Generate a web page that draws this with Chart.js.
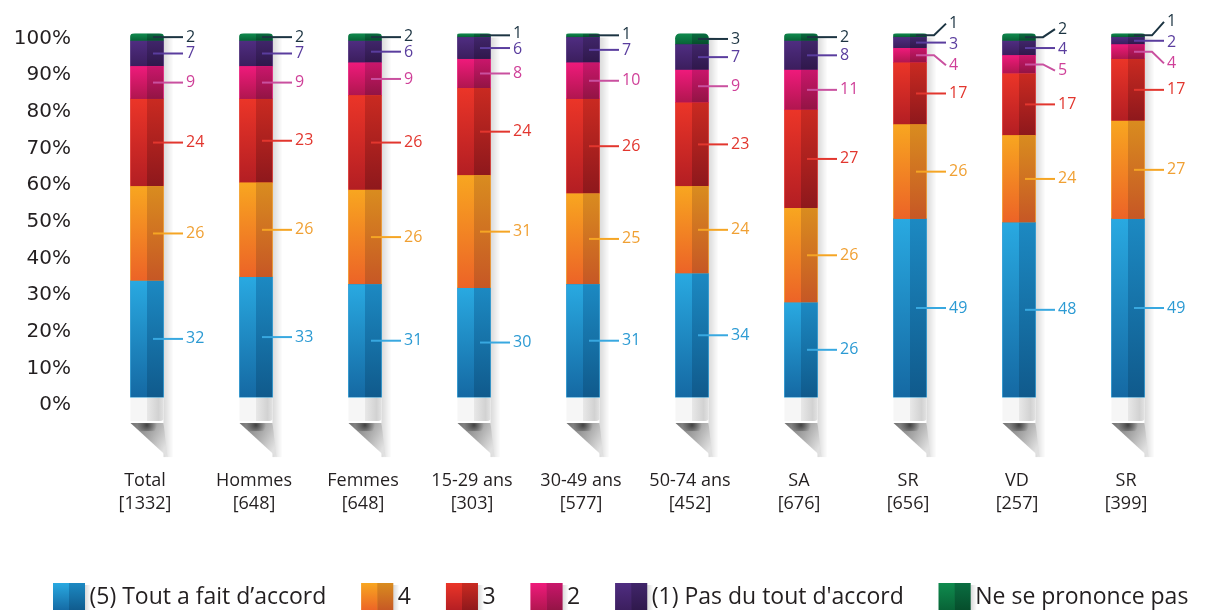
<!DOCTYPE html>
<html><head><meta charset="utf-8">
<script src="https://cdn.jsdelivr.net/npm/chart.js@4.4.1/dist/chart.umd.min.js"></script>
<style>html,body{margin:0;padding:0;background:#fff;}#wrap{width:1218px;height:610px;overflow:hidden;}</style>
</head><body><div id="wrap"><canvas id="c" width="1218" height="610"></canvas></div>
<script>
// ---------- data ----------
const categories = [['Total','[1332]'],['Hommes','[648]'],['Femmes','[648]'],['15-29 ans','[303]'],['30-49 ans','[577]'],['50-74 ans','[452]'],['SA','[676]'],['SR','[656]'],['VD','[257]'],['SR','[399]']];
const seriesNames = ['(5) Tout a fait d’accord','4','3','2','(1) Pas du tout d\'accord','Ne se prononce pas'];
const toutAFait = [32,33,31,30,31,34,26,49,48,49];
const note4     = [26,26,26,31,25,24,26,26,24,27];
const note3     = [24,23,26,24,26,23,27,17,17,17];
const note2     = [9,9,9,8,10,9,11,4,5,4];
const pasDuTout = [7,7,6,6,7,7,8,3,4,2];
const nsp       = [2,2,2,1,1,3,2,1,2,1];
const yTicks = [0,10,20,30,40,50,60,70,80,90,100];

// ---------- styles ----------
const baseColors = ['#1f95d2','#f29a21','#e2302a','#e8197a','#4a2a78','#0d7a45'];
const segStyles = [ // topLeft, bottomLeft, topRight, bottomRight
  ['#29a9e1','#1569a3','#1c89c2','#105a8c'],
  ['#f8a620','#ec6327','#d98c1f','#c65725'],
  ['#eb3528','#b31e23','#c92a21','#8e181c'],
  ['#ef1a7b','#b0164f','#c9166b','#921444'],
  ['#4f2d81','#3b1e5d','#40256a','#2f184b'],
  ['#0f8b4e','#086236','#0a6d41','#064d2b']
];
const textColors = ['#2b9ad3','#f0a033','#e2362e','#cf3f98','#5a3d9e','#1c3442'];
const lineColors = ['#38a8e0','#f5a524','#e2362e','#c9509f','#5a3d9e','#1c3442'];

function layoutLabels(mids, gap){
  const items = mids.map((y,i)=>({i,y0:y}));
  items.sort((a,b)=>a.y0-b.y0);
  let clusters = items.map(it=>({items:[it],mean:it.y0}));
  let changed=true;
  while(changed){
    changed=false;
    for(let k=0;k<clusters.length-1;k++){
      const a=clusters[k], b=clusters[k+1];
      const aB=a.mean+(a.items.length-1)*gap/2, bT=b.mean-(b.items.length-1)*gap/2;
      if(bT-aB<gap){
        const m=a.items.concat(b.items);
        clusters.splice(k,2,{items:m,mean:m.reduce((s,it)=>s+it.y0,0)/m.length});
        changed=true;break;
      }
    }
  }
  const out=[];
  clusters.forEach(c=>{
    const sp = c.items.length>=3 ? gap*1.3 : gap;
    c.items.forEach((it,j)=>{out[it.i]=c.mean+(j-(c.items.length-1)/2)*sp;});
  });
  return out;
}

const pencilPlugin = {
  id:'pencil',
  afterLayout(chart){
    const lg=chart.legend; if(!lg||!lg.lineWidths) return;
    const pad=lg.options.labels.padding;
    const start=(lg.left+pad+lg.right-lg.lineWidths[0])/2;
    const shift=53-start;
    lg.left+=shift; lg.right+=shift;
  },
  beforeDatasetsDraw(chart){
    const ctx=chart.ctx, xs=chart.scales.x, ys=chart.scales.y;
    const y0=ys.getPixelForValue(0);
    const n=chart.data.datasets.length;
    categories.forEach((c,i)=>{
      const el0=chart.getDatasetMeta(0).data[i];
      const top=chart.getDatasetMeta(n-1).data[i].y;
      const cx=xs.getPixelForValue(i), w=el0.width, L=cx-w/2, R=cx+w/2;
      ctx.save();
      let g=ctx.createLinearGradient(R,0,R+10,0);
      g.addColorStop(0,'rgba(0,0,0,0.15)'); g.addColorStop(1,'rgba(0,0,0,0)');
      ctx.fillStyle=g; ctx.fillRect(R,top+4,10,y0+60-top-4);
      ctx.fillStyle='#f6f6f6'; ctx.fillRect(L,y0,cx-L,24);
      g=ctx.createLinearGradient(cx,0,R,0);
      g.addColorStop(0,'#e8e8e8'); g.addColorStop(0.7,'#d2d2d2'); g.addColorStop(1,'#e2e2e2');
      ctx.fillStyle=g; ctx.beginPath(); ctx.roundRect(cx,y0,R-cx,24,[0,0,3,0]); ctx.fill();
      const yT=y0+26;
      g=ctx.createLinearGradient(L,yT,R+4,yT+20);
      g.addColorStop(0,'#727272'); g.addColorStop(0.55,'#a8a8a8'); g.addColorStop(1,'#e0e0e0');
      ctx.fillStyle=g; ctx.beginPath(); ctx.moveTo(L,yT); ctx.lineTo(R,yT); ctx.lineTo(R+4,yT+34); ctx.closePath(); ctx.fill();
      const rg=ctx.createRadialGradient(cx,yT+2,0,cx,yT+2,10);
      rg.addColorStop(0,'rgba(30,30,30,0.7)'); rg.addColorStop(1,'rgba(30,30,30,0)');
      ctx.save(); ctx.beginPath(); ctx.moveTo(L,yT); ctx.lineTo(R,yT); ctx.lineTo(R+4,yT+34); ctx.closePath(); ctx.clip();
      ctx.fillStyle=rg; ctx.fillRect(cx-12,yT,24,8); ctx.restore();
      ctx.restore();
    });
  },
  afterDatasetsDraw(chart){
    const ctx=chart.ctx, xs=chart.scales.x;
    const n=chart.data.datasets.length;
    chart.data.datasets.forEach((ds,di)=>{
      chart.getDatasetMeta(di).data.forEach((el,i)=>{
        const p=el.getProps(['x','y','base','width'],true);
        const L=p.x-p.width/2, R=p.x+p.width/2, T=Math.min(p.y,p.base), B=Math.max(p.y,p.base);
        ctx.save(); ctx.beginPath();
        if(di===n-1) ctx.roundRect(L,T,p.width,B-T,[5,5,0,0]); else ctx.rect(L,T,p.width,B-T);
        ctx.clip();
        const st=segStyles[di];
        let g=ctx.createLinearGradient(0,T,0,B); g.addColorStop(0,st[0]); g.addColorStop(1,st[1]);
        ctx.fillStyle=g; ctx.fillRect(L,T,p.x-L,B-T);
        g=ctx.createLinearGradient(0,T,0,B); g.addColorStop(0,st[2]); g.addColorStop(1,st[3]);
        ctx.fillStyle=g; ctx.fillRect(p.x,T,R-p.x,B-T);
        ctx.restore();
      });
    });
    categories.forEach((c,i)=>{
      const cx=xs.getPixelForValue(i);
      const mids=chart.data.datasets.map((ds,di)=>{const el=chart.getDatasetMeta(di).data[i];return (el.y+el.base)/2;});
      const pos=layoutLabels(mids,16);
      chart.data.datasets.forEach((ds,di)=>{
        const m=mids[di], ly=pos[di];
        ctx.save();
        ctx.strokeStyle=lineColors[di]; ctx.lineWidth=2; ctx.beginPath();
        if(Math.abs(ly-m)<2.5){ctx.moveTo(cx+6,m);ctx.lineTo(cx+36,m);}
        else{ctx.moveTo(cx+6,m);ctx.lineTo(cx+24,m);ctx.lineTo(cx+36,ly);}
        ctx.stroke();
        ctx.fillStyle=textColors[di]; ctx.font='16px "Open Sans"'; ctx.textBaseline='middle'; ctx.textAlign='left';
        ctx.fillText(String(ds.data[i]),cx+39,ly);
        ctx.restore();
      });
    });
  },
  afterDraw(chart){
    const lg=chart.legend, ctx=chart.ctx; if(!lg||!lg.legendHitBoxes) return;
    lg.legendHitBoxes.forEach((hb,i)=>{
      const st=segStyles[i], L=hb.left, T=hb.top, W=32, H=28;
      ctx.save();
      let g=ctx.createLinearGradient(0,T,0,T+H); g.addColorStop(0,st[0]); g.addColorStop(1,st[1]);
      ctx.fillStyle=g; ctx.fillRect(L,T,W/2,H);
      g=ctx.createLinearGradient(0,T,0,T+H); g.addColorStop(0,st[2]); g.addColorStop(1,st[3]);
      ctx.fillStyle=g; ctx.fillRect(L+W/2,T,W/2,H);
      g=ctx.createLinearGradient(L+W,0,L+W+6,0); g.addColorStop(0,'rgba(0,0,0,0.15)'); g.addColorStop(1,'rgba(0,0,0,0)');
      ctx.fillStyle=g; ctx.fillRect(L+W,T+2,6,H);
      ctx.restore();
    });
  }
};

const seriesData=[toutAFait,note4,note3,note2,pasDuTout,nsp];
Chart.defaults.font.family='"Open Sans"';
new Chart(document.getElementById('c'),{
  type:'bar',
  data:{
    labels:categories,
    datasets:seriesData.map((d,i)=>({
      label:seriesNames[i], data:d, backgroundColor:baseColors[i], borderWidth:0,
      borderRadius: i===seriesData.length-1 ? {topLeft:5,topRight:5} : 0,
      borderSkipped:'start', barThickness:33, yAxisID:'y'
    }))
  },
  options:{
    responsive:false, animation:false, devicePixelRatio:1,
    layout:{padding:{left:0,right:0,top:30,bottom:-11}},
    scales:{
      x:{stacked:true, offset:true, grid:{display:false,drawTicks:false}, border:{display:false},
         ticks:{font:{family:'"Open Sans"',size:18,lineHeight:1.28}, color:'#231f20', padding:64, labelOffset:-2, maxRotation:0, autoSkip:false},
         afterFit(s){s.height=143;}},
      y:{stacked:true, display:false, min:-2.18, max:100},
      y2:{type:'linear', position:'left', min:0, max:101.35, grid:{display:false,drawTicks:false}, border:{display:false},
          ticks:{font:{family:'"DejaVu Sans"',size:20}, color:'#231f20', padding:21.5, callback:v=>v+'%'},
          afterBuildTicks(s){s.ticks=yTicks.map(v=>({value:v}));},
          afterFit(s){s.width=92.5;}},
      yr:{type:'linear', position:'right', min:0, max:100, grid:{display:false,drawTicks:false}, border:{display:false},
          ticks:{display:false}, afterFit(s){s.width=35.5;}}
    },
    plugins:{
      legend:{position:'bottom', labels:{boxWidth:25, boxHeight:28, padding:35, color:'#231f20', font:{family:'"Open Sans"', size:23}}},
      tooltip:{enabled:false}
    }
  },
  plugins:[pencilPlugin]
});
</script></body></html>
